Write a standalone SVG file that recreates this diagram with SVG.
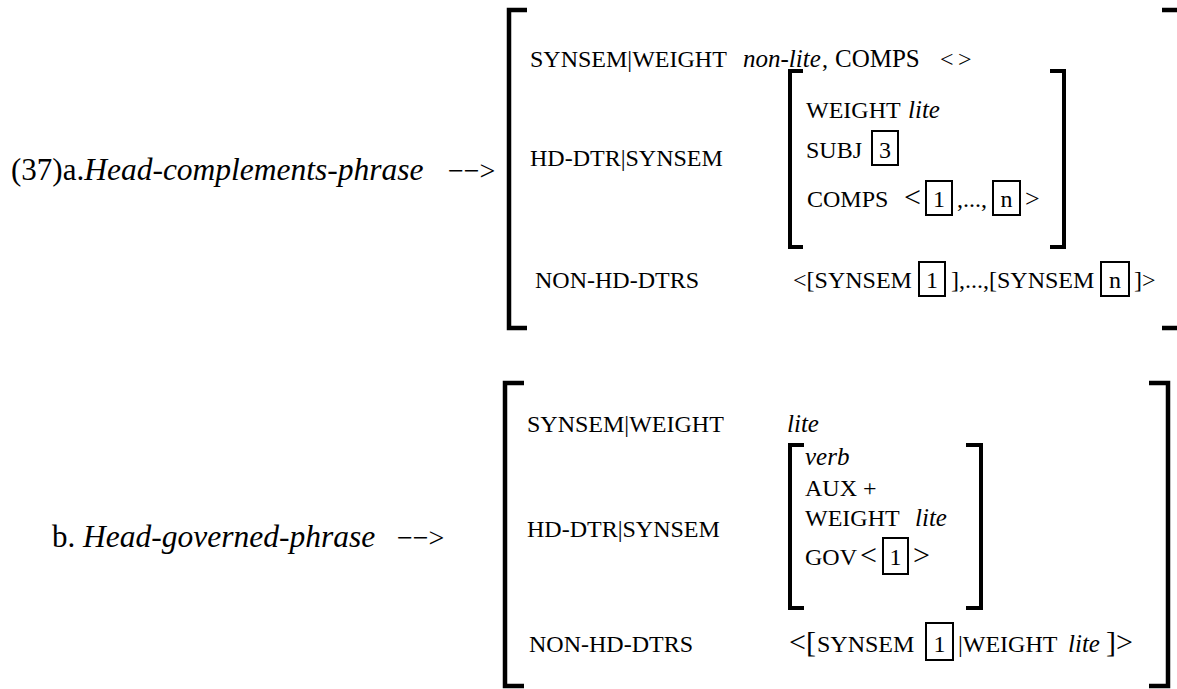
<svg xmlns="http://www.w3.org/2000/svg" width="1177" height="689" viewBox="0 0 1177 689">
<style>
text{font-family:"Liberation Serif","Times New Roman",serif;fill:#000;font-size:24px}
.lbl{font-size:31px}
.it{font-style:italic;font-size:25px}
.lbl .it{font-size:31.5px}
.arr{font-size:28px}
.big{font-size:30px}
.br{fill:none;stroke:#000;stroke-width:4.5;stroke-linecap:butt;stroke-linejoin:miter}
.ib{fill:none;stroke:#000;stroke-width:4}
.box{fill:none;stroke:#000;stroke-width:2}
.c{text-anchor:middle}
</style>
<rect width="1177" height="689" fill="#fff"/>

<g id="rule-a">
<text class="lbl" x="11" y="180">(37)a.<tspan class="it">Head-complements-phrase</tspan></text>
<text class="arr" x="448" y="180">−−&gt;</text>
</g>

<g id="avm-a">
<path class="br" d="M527,10 H509 V328 H527"/>
<path class="br" d="M1162,10 H1177 M1162,328 H1177"/>
<text x="530" y="67">SYNSEM|WEIGHT</text>
<text class="it" x="743" y="67">non-lite</text>
<text x="822" y="67">,</text>
<text x="835" y="67" style="font-size:25px">COMPS</text>
<text x="940" y="67">&lt;</text>
<text x="958" y="67">&gt;</text>
<text x="530" y="166">HD-DTR|SYNSEM</text>
<g id="inner-a">
<path class="ib" d="M803,71 H790 V247 H803"/>
<path class="ib" d="M1050,71 H1064 V247 H1050"/>
<text x="806" y="118">WEIGHT</text>
<text class="it" x="908" y="118">lite</text>
<text x="806" y="158">SUBJ</text>
<rect class="box" x="872" y="131" width="26" height="34"/>
<text class="c" x="885" y="158">3</text>
<text x="807" y="207">COMPS</text>
<text class="big" x="904" y="207">&lt;</text>
<rect class="box" x="926" y="181" width="26" height="34"/>
<text class="c" x="939" y="207">1</text>
<text x="957" y="207">,...,</text>
<rect class="box" x="993" y="181" width="27" height="34"/>
<text class="c" x="1006.5" y="207">n</text>
<text x="1025" y="207" style="font-size:26px">&gt;</text>
</g>
<text x="535" y="288">NON-HD-DTRS</text>
<text x="793" y="288">&lt;[SYNSEM</text>
<rect class="box" x="919" y="262" width="26" height="34"/>
<text class="c" x="932" y="288">1</text>
<text x="951" y="288">],...,[SYNSEM</text>
<rect class="box" x="1101" y="262" width="28" height="34"/>
<text class="c" x="1115" y="288">n</text>
<text x="1134" y="288">]&gt;</text>
</g>

<g id="rule-b">
<text class="lbl" x="52" y="547">b. <tspan class="it">Head-governed-phrase</tspan></text>
<text class="arr" x="397" y="547">−−&gt;</text>
</g>

<g id="avm-b">
<path class="br" d="M524,383 H505 V686 H524"/>
<path class="br" d="M1149,383 H1168 V686 H1149"/>
<text x="527" y="432">SYNSEM|WEIGHT</text>
<text class="it" x="787" y="432">lite</text>
<text x="527" y="537">HD-DTR|SYNSEM</text>
<g id="inner-b">
<path class="ib" d="M804,445 H790 V608 H804"/>
<path class="ib" d="M966,445 H981 V608 H966"/>
<text class="it" x="805" y="465">verb</text>
<text x="805" y="496">AUX +</text>
<text x="805" y="526">WEIGHT</text>
<text class="it" x="915" y="526">lite</text>
<text x="805" y="565">GOV</text>
<text class="big" x="860" y="565">&lt;</text>
<rect class="box" x="883" y="538" width="25" height="36"/>
<text class="c" x="895.5" y="565">1</text>
<text class="big" x="913" y="565">&gt;</text>
</g>
<text x="529" y="652">NON-HD-DTRS</text>
<text class="big" x="789" y="652">&lt;[</text>
<text x="817" y="652">SYNSEM</text>
<rect class="box" x="926" y="623" width="27" height="37"/>
<text class="c" x="939.5" y="652">1</text>
<text x="958" y="652">|WEIGHT</text>
<text class="it" x="1068" y="652">lite</text>
<text class="big" x="1106" y="652">]&gt;</text>
</g>

<g id="connectors"></g>
</svg>
